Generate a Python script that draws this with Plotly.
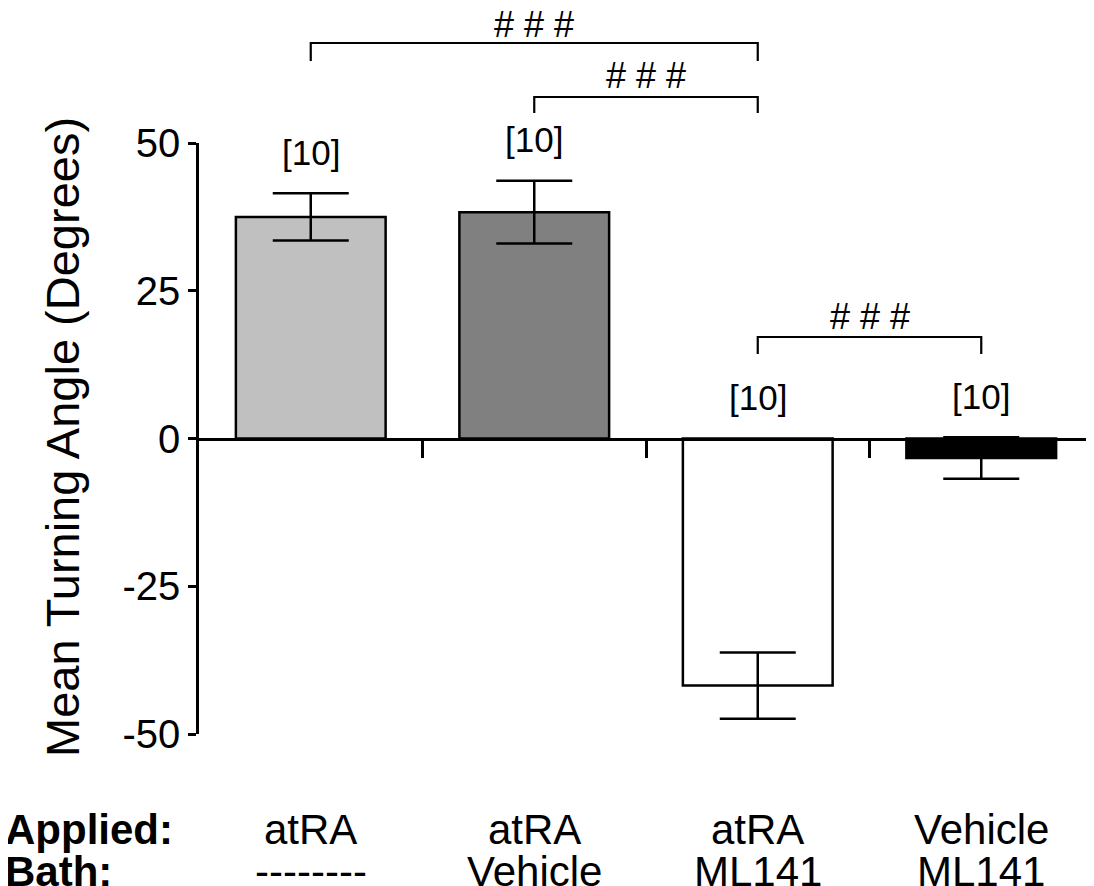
import plotly.graph_objects as go

# ---- data ----
applied = ["atRA", "atRA", "atRA", "Vehicle"]
bath = ["--------", "Vehicle", "ML141", "ML141"]
means = [37.5, 38.3, -41.8, -3.3]
sems = [4.0, 5.3, 5.6, 3.5]
n_labels = ["[10]", "[10]", "[10]", "[10]"]
bar_colors = ["#c0c0c0", "#808080", "#ffffff", "#000000"]
comparisons = [(0, 2), (1, 2), (2, 3)]
comp_labels = ["# # #", "# # #", "# # #"]
y_ticks = [-50, -25, 0, 25, 50]
y_ticktext = ["-50", "-25", "0", "25", "50"]

FONT = "Liberation Sans, Arial, Helvetica, sans-serif"
OFF = 8  # page body margin
W, H = 1094 - OFF, 886 - OFF
# plot area in screen pixels: x 199..1093, y 143..734
ML, MT = 199 - OFF, 143 - OFF
MR = W - (1093 - OFF)
MB = H - (734 - OFF)
PW = W - ML - MR
PH = H - MT - MB


def py(px):
    """screen pixel row -> paper y"""
    return (734 - px) / PH


def pxx(px):
    """screen pixel column -> paper x"""
    return (px - 199) / PW


xs = list(range(len(means)))

fig = go.Figure()
fig.add_trace(go.Bar(
    x=xs, y=means, width=0.67,
    marker=dict(color=bar_colors, line=dict(color="black", width=2.5)),
    error_y=dict(type="data", array=sems, visible=True, color="black",
                 thickness=2.5, width=38),
    showlegend=False, hoverinfo="skip",
))

annotations = []
# n labels
for i, (m, s, t) in enumerate(zip(means, sems, n_labels)):
    top = max(0, m + s)
    annotations.append(dict(x=i, y=top, xref="x", yref="y", text=t,
                            showarrow=False, yanchor="middle", yshift=41,
                            font=dict(size=35, family=FONT, color="black")))

# comparison brackets
bracket_rows = [(43, 61, 24), (97, 113, 76), (337, 354, 316)]
shapes = []
for (a, b), lab, (yl, yb, yt) in zip(comparisons, comp_labels, bracket_rows):
    shapes.append(dict(type="path", xref="x", yref="paper",
                       path=f"M {a},{py(yb)} L {a},{py(yl)} L {b},{py(yl)} L {b},{py(yb)}",
                       line=dict(color="black", width=2.2)))
    annotations.append(dict(x=(a + b) / 2, y=py(yt), xref="x", yref="paper",
                            text=lab, showarrow=False, yanchor="middle",
                            font=dict(size=36, family=FONT, color="black")))

# category labels below
for i, (ap, ba) in enumerate(zip(applied, bath)):
    annotations.append(dict(x=i, y=py(829), xref="x", yref="paper", text=ap,
                            showarrow=False, yanchor="middle",
                            font=dict(size=42, family=FONT, color="black")))
    annotations.append(dict(x=i, y=py(871), xref="x", yref="paper", text=ba,
                            showarrow=False, yanchor="middle",
                            font=dict(size=42, family=FONT, color="black")))
annotations.append(dict(x=pxx(3), y=py(829), xref="paper", yref="paper",
                        text="<b>Applied:</b>", showarrow=False, xanchor="left",
                        yanchor="middle", font=dict(size=42, family=FONT, color="black")))
annotations.append(dict(x=pxx(3), y=py(871), xref="paper", yref="paper",
                        text="<b>Bath:</b>", showarrow=False, xanchor="left",
                        yanchor="middle", font=dict(size=42, family=FONT, color="black")))

# y-axis title
annotations.append(dict(x=pxx(62), y=py(437), xref="paper", yref="paper",
                        text="Mean Turning Angle (Degrees)", textangle=-90,
                        showarrow=False, xanchor="center", yanchor="middle",
                        font=dict(size=47, family=FONT, color="black")))

fig.update_layout(
    width=W, height=H, autosize=False,
    margin=dict(l=ML, r=MR, t=MT, b=MB, pad=0),
    plot_bgcolor="white", paper_bgcolor="white",
    font=dict(family=FONT, color="black"),
    xaxis=dict(range=[-0.5, 3.5], anchor="free", position=0.5,
               showline=True, linecolor="black", linewidth=2.5,
               ticks="outside", tickvals=[0.5, 1.5, 2.5, 3.5], ticklen=18,
               tickwidth=2.5, tickcolor="black", showticklabels=False,
               showgrid=False, zeroline=False, fixedrange=True),
    yaxis=dict(range=[-50, 50], showline=True, linecolor="black", linewidth=2.5,
               ticks="outside", tickvals=y_ticks, ticktext=y_ticktext,
               ticklen=8, tickwidth=2.5,
               tickcolor="black", tickfont=dict(size=40, family=FONT, color="black"),
               showgrid=False, zeroline=False, fixedrange=True),
    shapes=shapes,
    annotations=annotations,
)

fig.write_html("out.html")
